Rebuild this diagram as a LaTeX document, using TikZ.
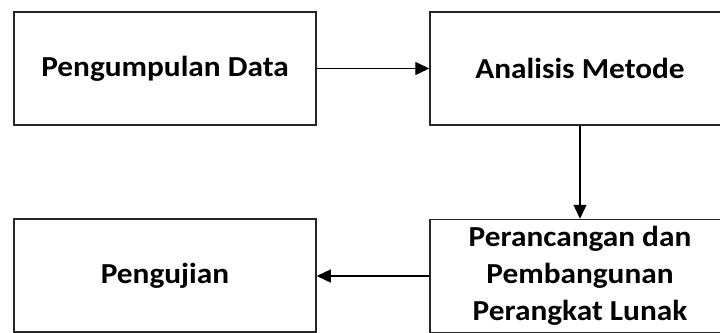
\documentclass[tikz,border=0pt]{standalone}
\usepackage{fontspec}
\setmainfont[FakeStretch=1.08]{Carlito}
\usetikzlibrary{arrows.meta}
\tikzset{
  blk/.style={draw=black!85, line width=1.5pt, fill=white, minimum width=300pt, minimum height=113pt, inner sep=0pt, align=center,
    font=\fontsize{29}{37}\selectfont\bfseries},
  conn/.style={draw=black, line width=1.4pt, -{Triangle[length=14pt,width=13pt]}}
}
\begin{document}
\begin{tikzpicture}[x=1pt,y=1pt]
\useasboundingbox (0,0) rectangle (720,-332);
\clip (0,0) rectangle (720,-332);
\fill[white] (0,0) rectangle (720,-332);
\node[blk, minimum width=302pt] (a) at (165,-68.5) {Pengumpulan Data};
\node[blk] (b) at (580,-68.5) {Analisis Metode};
\node[blk] (c) at (580,-276) {Perancangan dan\\Pembangunan\\Perangkat Lunak};
\node[blk, minimum width=302pt] (d) at (165,-275.5) {Pengujian};
\draw[conn] (a.east) -- (b.west);
\draw[conn] (b.south) -- (c.north);
\draw[conn] (c.west) -- (c.west -| d.east);
\end{tikzpicture}
\end{document}
